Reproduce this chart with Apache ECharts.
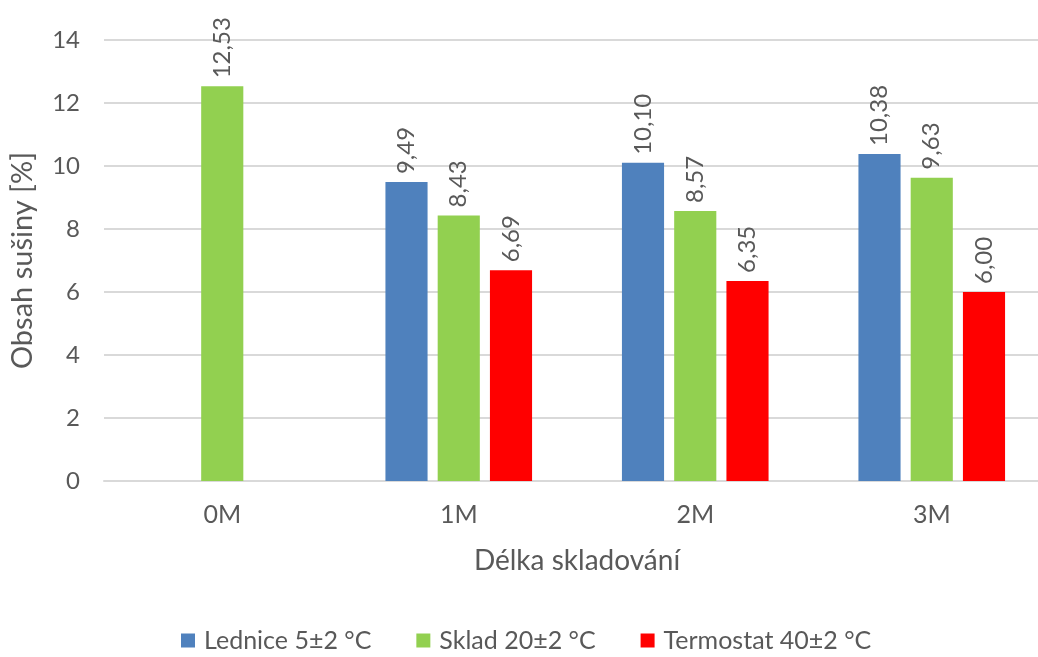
<!DOCTYPE html>
<html>
<head>
<meta charset="utf-8">
<script src="https://cdn.jsdelivr.net/npm/echarts@6/dist/echarts.min.js"></script>
<style>
  html, body { margin: 0; padding: 0; background: #ffffff; }
  #chart { width: 1038px; height: 657px; }
</style>
</head>
<body>
<div id="chart"></div>
<script>
// Storage period categories
const categories = ['0M', '1M', '2M', '3M'];

// Dry matter content [%] per storage condition
const lednice = [null, 9.49, 10.10, 10.38];
const sklad = [12.53, 8.43, 8.57, 9.63];
const termostat = [null, 6.69, 6.35, 6.00];

const seriesNames = ['Lednice 5±2 °C', 'Sklad 20±2 °C', 'Termostat 40±2 °C'];
const seriesColors = ['#4F81BD', '#92D050', '#FF0000'];

const FONT = 'Lato';
const TEXT = '#595959';

const chart = echarts.init(document.getElementById('chart'), null, { renderer: 'canvas' });

function fmt(v) {
  return v.toFixed(2).replace('.', ',');
}

function makeSeries(name, data, color) {
  return {
    name: name,
    type: 'bar',
    data: data,
    barGap: '24%',
    barCategoryGap: '38%',
    itemStyle: { color: color },
    label: {
      show: true,
      position: 'top',
      rotate: 90,
      align: 'left',
      verticalAlign: 'middle',
      distance: 8,
      color: TEXT,
      fontFamily: FONT,
      fontSize: 24,
      formatter: p => (p.value == null ? '' : fmt(p.value))
    }
  };
}

chart.setOption({
  animation: false,
  textStyle: { fontFamily: FONT },
  legend: {
    top: 628,
    left: 181,
    padding: 0,
    itemWidth: 14,
    itemHeight: 14,
    itemGap: 45,
    icon: 'rect',
    textStyle: { color: TEXT, fontFamily: FONT, fontSize: 25, padding: [0, 0, 0, 4] },
    data: seriesNames
  },
  grid: {
    left: 104,
    width: 946,
    top: 40,
    height: 441,
    outerBoundsMode: 'none',
    containLabel: false
  },
  xAxis: {
    type: 'category',
    data: categories,
    name: 'Délka skladování',
    nameLocation: 'middle',
    nameGap: 66,
    nameTextStyle: { color: TEXT, fontFamily: FONT, fontSize: 28 },
    axisLine: { lineStyle: { color: '#D9D9D9', width: 2 } },
    axisTick: { show: false },
    axisLabel: { color: TEXT, fontFamily: FONT, fontSize: 25, margin: 21 }
  },
  yAxis: {
    type: 'value',
    min: 0,
    max: 14,
    interval: 2,
    name: 'Obsah sušiny [%]',
    nameLocation: 'middle',
    nameGap: 67,
    nameRotate: 90,
    nameTextStyle: { color: TEXT, fontFamily: FONT, fontSize: 29 },
    axisLine: { show: false },
    axisTick: { show: false },
    splitLine: { lineStyle: { color: '#D9D9D9', width: 2 } },
    axisLabel: { color: TEXT, fontFamily: FONT, fontSize: 24, margin: 24 }
  },
  series: [
    makeSeries(seriesNames[0], lednice, seriesColors[0]),
    makeSeries(seriesNames[1], sklad, seriesColors[1]),
    makeSeries(seriesNames[2], termostat, seriesColors[2])
  ]
});
</script>
</body>
</html>
